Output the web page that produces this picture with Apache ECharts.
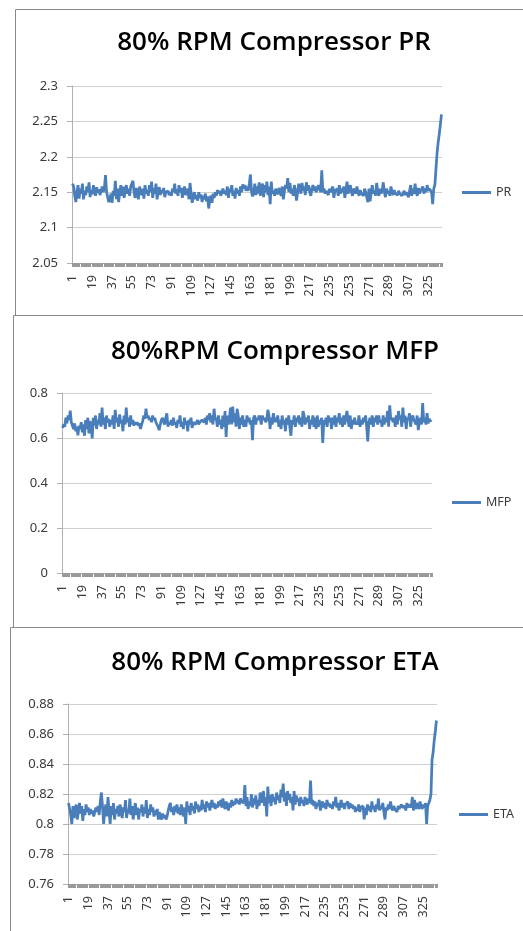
<!DOCTYPE html>
<html>
<head>
<meta charset="utf-8">
<script src="https://cdn.jsdelivr.net/npm/echarts@6/dist/echarts.min.js"></script>
<style>html,body{margin:0;padding:0;background:#fff;}#c{width:523px;height:931px;}</style>
</head>
<body>
<div id="c"></div>
<script>
// ---- data ----
const titles = ['80% RPM Compressor PR', '80%RPM Compressor MFP', '80% RPM Compressor ETA'];
const seriesNames = ['PR', 'MFP', 'ETA'];

const prValues = [
2.162,2.158,2.145,2.136,2.150,2.160,2.141,2.155,2.148,2.162,2.140,2.152,2.146,2.158,2.150,2.164,2.143,2.153,2.147,2.160,
2.151,2.145,2.157,2.149,2.154,2.146,2.152,2.158,2.150,2.155,2.174,2.150,2.143,2.136,2.140,2.148,2.135,2.152,2.145,2.166,
2.140,2.155,2.136,2.150,2.160,2.145,2.158,2.142,2.152,2.160,2.148,2.155,2.145,2.158,2.162,2.166,2.150,2.142,2.156,2.148,
2.140,2.158,2.150,2.146,2.155,2.141,2.160,2.148,2.153,2.145,2.160,2.150,2.165,2.142,2.156,2.148,2.162,2.140,2.152,2.157,
2.146,2.153,2.149,2.156,2.143,2.150,2.148,2.152,2.146,2.150,2.145,2.155,2.150,2.162,2.148,2.154,2.145,2.160,2.150,2.156,
2.142,2.152,2.158,2.146,2.150,2.155,2.140,2.163,2.148,2.135,2.145,2.150,2.140,2.146,2.138,2.150,2.142,2.147,2.136,2.145,
2.140,2.148,2.137,2.144,2.127,2.140,2.145,2.135,2.148,2.142,2.150,2.145,2.153,2.148,2.152,2.145,2.150,2.155,2.148,2.152,
2.146,2.158,2.142,2.155,2.150,2.160,2.145,2.152,2.141,2.156,2.148,2.153,2.145,2.158,2.150,2.161,2.155,2.160,2.152,2.158,
2.152,2.162,2.175,2.150,2.144,2.150,2.162,2.146,2.158,2.148,2.164,2.145,2.156,2.162,2.143,2.160,2.150,2.165,2.146,2.158,
2.133,2.165,2.148,2.152,2.145,2.155,2.150,2.147,2.156,2.150,2.145,2.158,2.140,2.152,2.160,2.155,2.170,2.150,2.163,2.148,
2.155,2.145,2.160,2.152,2.138,2.150,2.162,2.155,2.148,2.163,2.152,2.158,2.146,2.164,2.152,2.160,2.150,2.145,2.155,2.160,
2.152,2.158,2.150,2.148,2.160,2.155,2.150,2.181,2.150,2.155,2.148,2.152,2.150,2.146,2.155,2.150,2.148,2.158,2.142,2.152,
2.150,2.155,2.145,2.160,2.148,2.155,2.150,2.158,2.142,2.153,2.165,2.148,2.155,2.160,2.150,2.145,2.155,2.152,2.148,2.158,
2.150,2.145,2.153,2.148,2.150,2.145,2.155,2.150,2.148,2.136,2.155,2.137,2.150,2.160,2.148,2.152,2.145,2.163,2.150,2.145,
2.155,2.148,2.152,2.164,2.150,2.143,2.155,2.148,2.152,2.145,2.158,2.150,2.146,2.153,2.148,2.150,2.146,2.152,2.148,2.150,
2.145,2.148,2.152,2.146,2.150,2.148,2.143,2.152,2.160,2.145,2.155,2.148,2.162,2.150,2.145,2.156,2.148,2.152,2.150,2.158,
2.148,2.155,2.150,2.160,2.152,2.155,2.157,2.150,2.133,2.155,2.160,2.162,2.205,2.220,2.232,2.245,2.260
];

const mfpValues = [
0.645,0.660,0.650,0.690,0.665,0.700,0.680,0.722,0.670,0.655,0.640,0.665,0.630,0.650,0.612,0.655,0.640,0.670,0.625,0.660,
0.610,0.680,0.640,0.690,0.620,0.675,0.650,0.598,0.690,0.655,0.700,0.640,0.680,0.660,0.710,0.650,0.735,0.660,0.690,0.640,
0.700,0.670,0.685,0.650,0.680,0.660,0.700,0.640,0.725,0.670,0.690,0.650,0.705,0.665,0.680,0.630,0.700,0.660,0.735,0.670,
0.690,0.650,0.700,0.660,0.680,0.655,0.670,0.660,0.670,0.655,0.665,0.640,0.660,0.675,0.700,0.685,0.730,0.690,0.700,0.680,
0.690,0.670,0.700,0.680,0.690,0.670,0.660,0.650,0.635,0.660,0.680,0.690,0.670,0.660,0.690,0.710,0.650,0.670,0.660,0.680,
0.655,0.690,0.660,0.670,0.645,0.680,0.665,0.700,0.650,0.670,0.640,0.690,0.660,0.675,0.630,0.680,0.660,0.690,0.645,0.670,
0.665,0.660,0.670,0.680,0.660,0.670,0.665,0.680,0.675,0.670,0.690,0.660,0.700,0.680,0.710,0.670,0.700,0.660,0.730,0.680,
0.690,0.650,0.700,0.660,0.680,0.640,0.700,0.650,0.720,0.605,0.700,0.660,0.690,0.735,0.660,0.740,0.670,0.710,0.650,0.730,
0.700,0.640,0.690,0.660,0.700,0.650,0.680,0.650,0.700,0.670,0.690,0.660,0.680,0.590,0.690,0.700,0.660,0.690,0.680,0.700,
0.690,0.660,0.700,0.680,0.690,0.670,0.680,0.725,0.700,0.640,0.690,0.660,0.710,0.670,0.690,0.670,0.700,0.650,0.680,0.640,
0.700,0.660,0.680,0.630,0.690,0.660,0.700,0.650,0.610,0.680,0.660,0.700,0.650,0.690,0.670,0.700,0.660,0.690,0.650,0.720,
0.700,0.660,0.690,0.670,0.700,0.640,0.680,0.660,0.700,0.650,0.690,0.640,0.700,0.650,0.680,0.660,0.690,0.578,0.680,0.660,
0.690,0.650,0.700,0.670,0.690,0.640,0.690,0.660,0.700,0.650,0.690,0.670,0.710,0.660,0.690,0.650,0.700,0.660,0.690,0.720,
0.680,0.650,0.700,0.640,0.680,0.660,0.690,0.660,0.670,0.660,0.700,0.650,0.680,0.660,0.690,0.670,0.700,0.650,0.585,0.670,
0.690,0.660,0.700,0.650,0.690,0.670,0.700,0.660,0.700,0.670,0.680,0.650,0.700,0.660,0.690,0.670,0.720,0.650,0.745,0.680,
0.690,0.670,0.690,0.650,0.700,0.660,0.720,0.680,0.700,0.650,0.735,0.670,0.700,0.640,0.690,0.680,0.710,0.650,0.690,0.700,
0.680,0.670,0.660,0.700,0.635,0.670,0.690,0.660,0.755,0.670,0.690,0.660,0.710,0.665,0.685,0.675,0.680
];

const etaValues = [
0.814,0.810,0.806,0.800,0.812,0.804,0.810,0.813,0.803,0.808,0.814,0.807,0.812,0.802,0.810,0.806,0.813,0.808,0.811,0.806,
0.810,0.807,0.809,0.805,0.808,0.811,0.808,0.812,0.806,0.815,0.821,0.812,0.800,0.808,0.813,0.805,0.818,0.809,0.800,0.812,
0.806,0.814,0.803,0.810,0.807,0.812,0.805,0.813,0.809,0.804,0.811,0.808,0.816,0.804,0.810,0.807,0.817,0.806,0.812,0.803,
0.809,0.814,0.806,0.811,0.803,0.810,0.808,0.813,0.805,0.811,0.807,0.816,0.804,0.810,0.806,0.813,0.808,0.811,0.805,0.809,
0.806,0.810,0.803,0.808,0.805,0.803,0.807,0.804,0.806,0.803,0.805,0.809,0.812,0.814,0.808,0.811,0.806,0.812,0.808,0.813,
0.807,0.811,0.806,0.813,0.809,0.805,0.811,0.800,0.815,0.808,0.812,0.806,0.814,0.809,0.812,0.807,0.815,0.810,0.813,0.808,
0.812,0.809,0.816,0.810,0.813,0.808,0.815,0.811,0.814,0.809,0.813,0.816,0.811,0.814,0.810,0.813,0.811,0.815,0.812,0.816,
0.811,0.817,0.812,0.810,0.815,0.812,0.809,0.814,0.811,0.816,0.812,0.815,0.813,0.817,0.814,0.816,0.813,0.817,0.815,0.816,
0.814,0.826,0.812,0.818,0.810,0.815,0.812,0.820,0.811,0.817,0.813,0.819,0.810,0.816,0.812,0.821,0.814,0.818,0.822,0.812,
0.818,0.805,0.825,0.814,0.819,0.812,0.820,0.815,0.818,0.813,0.821,0.816,0.819,0.814,0.823,0.818,0.827,0.815,0.821,0.812,
0.822,0.816,0.820,0.814,0.818,0.809,0.822,0.813,0.819,0.815,0.817,0.812,0.818,0.814,0.816,0.812,0.818,0.815,0.813,0.817,
0.814,0.829,0.813,0.816,0.812,0.815,0.810,0.814,0.812,0.816,0.809,0.813,0.815,0.811,0.814,0.810,0.816,0.812,0.814,0.811,
0.813,0.810,0.815,0.812,0.818,0.811,0.814,0.809,0.813,0.816,0.811,0.814,0.810,0.813,0.812,0.815,0.810,0.814,0.811,0.813,
0.810,0.812,0.808,0.811,0.809,0.813,0.808,0.811,0.810,0.812,0.803,0.811,0.806,0.813,0.809,0.812,0.808,0.815,0.810,0.812,
0.808,0.813,0.810,0.817,0.809,0.812,0.810,0.814,0.808,0.803,0.811,0.809,0.813,0.810,0.815,0.811,0.809,0.812,0.810,0.811,
0.808,0.812,0.810,0.809,0.813,0.811,0.810,0.812,0.809,0.814,0.811,0.810,0.813,0.811,0.818,0.809,0.816,0.810,0.814,0.812,
0.810,0.815,0.812,0.810,0.813,0.811,0.814,0.800,0.812,0.814,0.816,0.820,0.843,0.848,0.856,0.862,0.869
];

const categories = prValues.map((_, i) => String(i + 1));

const yMins = [2.05, 0, 0.76];
const yMaxs = [2.3, 0.8, 0.88];
const yIntervals = [0.05, 0.2, 0.02];

// ---- layout (pixels) ----
const grids = [
  {left: 72, top: 86, width: 370, height: 177},
  {left: 62, top: 393, width: 370, height: 180},
  {left: 68, top: 704, width: 369, height: 180}
];
const titleCenters = [[269, 25], [270, 334], [270, 645]];
const legendPos = [[462, 186], [452, 496], [459, 808]];
const panels = [
  {x: 15.5, y: 9.5, h: 306},
  {x: 13.5, y: 315.5, h: 312},
  {x: 10.5, y: 627.5, h: 400}
];

const allValues = [prValues, mfpValues, etaValues];
const lineColor = '#4a7ebb';
const txtColor = '#3a3a3a';
const font = 'Noto Sans';

const option = {
  backgroundColor: '#fff',
  animation: false,
  graphic: panels.map(p => ({
    type: 'rect', silent: true, z: -10,
    shape: {x: p.x, y: p.y, width: 600, height: p.h},
    style: {fill: '#fff', stroke: '#8a8a8a', lineWidth: 1}
  })),
  title: titles.map((t, k) => ({
    text: t, left: titleCenters[k][0], top: titleCenters[k][1], textAlign: 'center',
    textStyle: {fontFamily: 'Open Sans', fontSize: 26, fontWeight: 600, color: '#000'}
  })),
  legend: seriesNames.map((n, k) => ({
    data: [n], left: legendPos[k][0], top: legendPos[k][1], orient: 'vertical',
    icon: 'rect', itemWidth: 29, itemHeight: 3, padding: 0,
    textStyle: {fontFamily: font, fontSize: 12.5, color: txtColor}
  })),
  grid: grids.map(g => Object.assign({containLabel: false}, g)),
  xAxis: grids.map((g, k) => ({
    type: 'category', gridIndex: k, data: categories, boundaryGap: true,
    axisLine: {lineStyle: {color: '#a8a8a8', width: 1}},
    axisTick: {show: true, interval: 0, length: 4, lineStyle: {color: '#9a9a9a'}},
    axisLabel: {interval: 17, rotate: 90, margin: 12, fontFamily: font, fontSize: 12.5, color: txtColor},
    splitLine: {show: false}
  })),
  yAxis: grids.map((g, k) => ({
    type: 'value', gridIndex: k, min: yMins[k], max: yMaxs[k], interval: yIntervals[k],
    axisLine: {show: true, lineStyle: {color: '#b0b0b0'}},
    axisTick: {show: true, length: 5, lineStyle: {color: '#b0b0b0'}},
    axisLabel: {margin: 14, fontFamily: font, fontSize: 13, color: txtColor},
    splitLine: {show: true, lineStyle: {color: '#cfcfcf', width: 1}}
  })),
  series: seriesNames.map((n, k) => ({
    name: n, type: 'line', xAxisIndex: k, yAxisIndex: k, data: allValues[k],
    symbol: 'none', smooth: false, color: lineColor,
    lineStyle: {color: lineColor, width: 2.75}
  }))
};

const chart = echarts.init(document.getElementById('c'), null, {renderer: 'canvas'});
chart.setOption(option);
</script>
</body>
</html>
